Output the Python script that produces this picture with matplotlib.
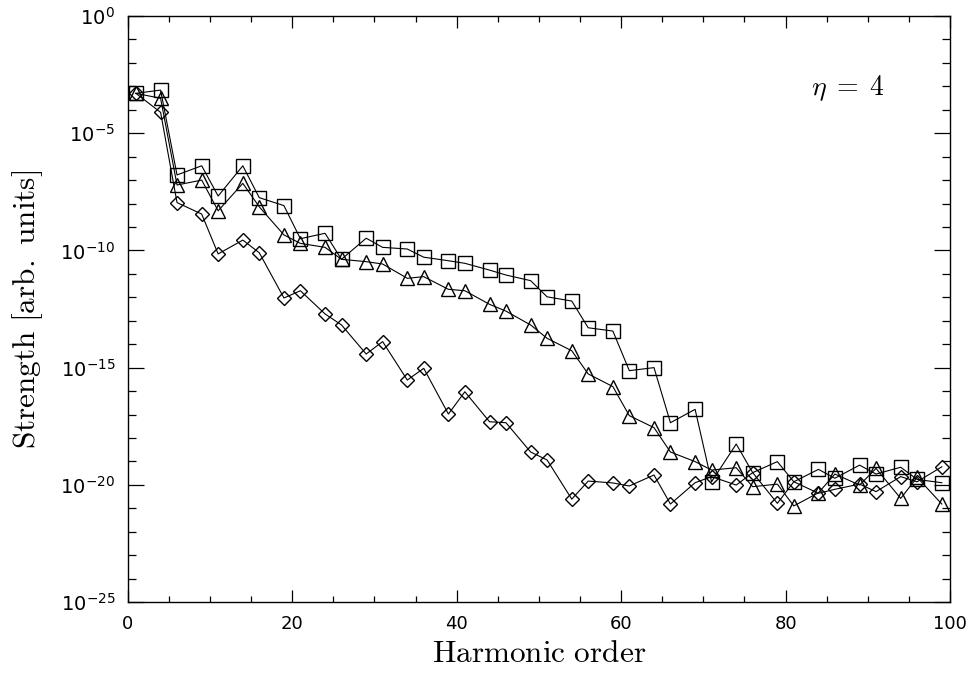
import numpy as np
import matplotlib
matplotlib.use("Agg")
import matplotlib.pyplot as plt
from matplotlib.ticker import FixedLocator, LogFormatterMathtext, NullFormatter

plt.rcParams['font.family'] = ['DejaVu Sans']
plt.rcParams['mathtext.fontset'] = 'dejavusans'

harmonic_order = [1, 4, 6, 9, 11, 14, 16, 19, 21, 24, 26, 29, 31, 34, 36, 39, 41, 44, 46, 49,
                  51, 54, 56, 59, 61, 64, 66, 69, 71, 74, 76, 79, 81, 84, 86, 89, 91, 94, 96, 99]

# log10 of strength
log_squares = [-3.30, -3.16, -6.78, -6.39, -7.68, -6.39, -7.75, -8.09, -9.50, -9.27,
               -10.38, -9.48, -9.87, -9.94, -10.29, -10.44, -10.55, -10.84, -11.05, -11.29,
               -11.98, -12.16, -13.30, -13.44, -15.13, -15.00, -17.35, -16.78, -19.87, -18.26,
               -19.48, -19.01, -19.87, -19.34, -19.72, -19.16, -19.54, -19.25, -19.77, -19.91]
log_triangles = [-3.30, -3.51, -7.21, -7.00, -8.31, -7.14, -8.14, -9.34, -9.70, -9.87,
                 -10.38, -10.48, -10.58, -11.19, -11.12, -11.66, -11.72, -12.30, -12.59, -13.18,
                 -13.75, -14.28, -15.27, -15.81, -17.05, -17.56, -18.60, -19.01, -19.37, -19.27,
                 -20.08, -19.97, -20.90, -20.34, -19.54, -20.01, -19.30, -20.58, -19.68, -20.82]
log_diamonds = [-3.30, -4.11, -7.96, -8.45, -10.15, -9.56, -10.10, -12.03, -11.72, -12.71,
                -13.18, -14.42, -13.89, -15.53, -15.03, -16.98, -16.03, -17.31, -17.35, -18.60,
                -18.94, -20.61, -19.84, -19.92, -20.05, -19.58, -20.82, -19.91, -19.65, -20.01,
                -19.48, -20.79, -19.87, -20.36, -20.19, -19.97, -20.29, -19.65, -19.87, -19.23]

x_ticks = [0, 20, 40, 60, 80, 100]
y_major_exp = [0, -5, -10, -15, -20, -25]

fig = plt.figure(figsize=(9.74, 6.75), dpi=100)
ax = fig.add_axes([0.1311, 0.1081, 0.8443, 0.8682])

x = np.array(harmonic_order)
common = dict(color='black', lw=0.8, mfc='none', mec='black', mew=1.0)
ax.plot(x, 10.0 ** np.array(log_squares), marker='s', ms=9.5, **common)
ax.plot(x, 10.0 ** np.array(log_triangles), marker='^', ms=10.5, **common)
ax.plot(x, 10.0 ** np.array(log_diamonds), marker='D', ms=7.2, **common)

ax.set_yscale('log')
ax.set_xlim(0, 100)
ax.set_ylim(1e-25, 1e0)

ax.set_xticks(x_ticks)
ax.xaxis.set_minor_locator(FixedLocator(np.arange(0, 101, 5)))
ax.yaxis.set_major_locator(FixedLocator([10.0 ** e for e in y_major_exp]))
ax.yaxis.set_minor_locator(FixedLocator([10.0 ** e for e in range(-25, 1)]))
ax.yaxis.set_major_formatter(LogFormatterMathtext())
ax.yaxis.set_minor_formatter(NullFormatter())

ax.tick_params(axis='both', which='both', direction='in', top=True, right=True,
               width=0.9, pad=9)
ax.tick_params(axis='x', which='major', length=8.4, labelsize=13)
ax.tick_params(axis='x', which='minor', length=4.2)
ax.tick_params(axis='y', which='major', length=11.8, labelsize=14)
ax.tick_params(axis='y', which='minor', length=5.9)

for s in ax.spines.values():
    s.set_linewidth(1.0)

ax.set_xlabel(r'$\mathrm{Harmonic\ order}$', fontsize=22.5, math_fontfamily='cm', labelpad=5)
ax.set_ylabel(r'$\mathrm{Strength\ [arb.\ units]}$', fontsize=22.5, math_fontfamily='cm', labelpad=11)

ax.text(0.876, 0.877, r'$\eta\;=\;4$', transform=ax.transAxes, fontsize=20,
        math_fontfamily='cm', ha='center', va='center')

fig.savefig('out.png', dpi=100)
